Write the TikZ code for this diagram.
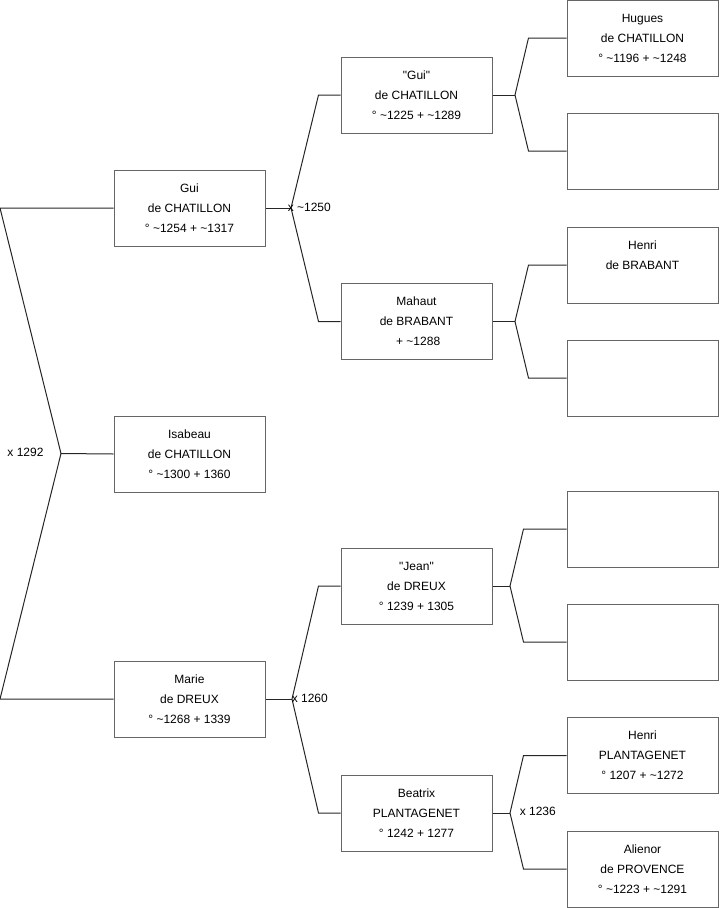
\documentclass[tikz,border=0pt]{standalone}
\usepackage{fontspec}
\newfontfamily\lib{Liberation Sans}
\usetikzlibrary{calc}
\newcommand\ca{\textasciitilde}
\begin{document}
\begin{tikzpicture}[x=0.75pt,y=-0.75pt,
  person/.style={draw=black!60, line width=0.75pt, minimum width=113.25pt, minimum height=57pt,
    inner sep=0pt, align=center, font=\lib\fontsize{9}{15}\selectfont},
  link/.style={draw=black!85, line width=0.75pt},
  lbl/.style={font=\lib\fontsize{9}{11}\selectfont, inner sep=0pt}]
\useasboundingbox (0,0) rectangle (719,908);

% generation 1
\node[person] (isabeau) at (189.5,454) {Isabeau\\de CHATILLON\\° \ca1300 + 1360};
% generation 2
\node[person] (gui) at (189.5,208) {Gui\\de CHATILLON\\° \ca1254 + \ca1317};
\node[person] (marie) at (189.5,699) {Marie\\de DREUX\\° \ca1268 + 1339};
% generation 3
\node[person] (guif) at (416.5,95) {"Gui"\\de CHATILLON\\° \ca1225 + \ca1289};
\node[person] (mahaut) at (416.5,321.5) {Mahaut\\de BRABANT\\\ + \ca1288};
\node[person] (jean) at (416.5,586) {"Jean"\\de DREUX\\° 1239 + 1305};
\node[person] (beatrix) at (416.5,813) {Beatrix\\PLANTAGENET\\° 1242 + 1277};
% generation 4
\node[person] (hugues) at (642.5,38) {Hugues\\de CHATILLON\\° \ca1196 + \ca1248};
\node[person] (e1) at (642.5,151) {};
\node[person] (henrib) at (642.5,265) {Henri\\de BRABANT\\\mbox{}};
\node[person] (e2) at (642.5,378) {};
\node[person] (e3) at (642.5,529) {};
\node[person] (e4) at (642.5,642) {};
\node[person] (henrip) at (642.5,755.5) {Henri\\PLANTAGENET\\° 1207 + \ca1272};
\node[person] (alienor) at (642.5,869) {Alienor\\de PROVENCE\\° \ca1223 + \ca1291};

% fork points
\coordinate (fa) at (61,453.5);
\coordinate (fb) at (291,208);
\coordinate (fc) at (292,699);
\coordinate (fd) at (515,95);
\coordinate (fe) at (515,321.5);
\coordinate (ff) at (510,586);
\coordinate (fg) at (510,813);

% connectors
\draw[link] (gui.west) -- (gui.west -| 0,0) -- (fa) -- (isabeau.west);
\draw[link] (marie.west) -- (marie.west -| 0,0) -- (fa);

\draw[link] (gui.east) -- (fb);
\draw[link] (guif.west) -- ($(guif.west)+(-22,0)$) -- (fb) -- ($(mahaut.west)+(-22,0)$) -- (mahaut.west);
\draw[link] (marie.east) -- (fc);
\draw[link] (jean.west) -- ($(jean.west)+(-22,0)$) -- (fc) -- ($(beatrix.west)+(-22,0)$) -- (beatrix.west);

\draw[link] (guif.east) -- (fd);
\draw[link] (hugues.west) -- ($(hugues.west)+(-38,0)$) -- (fd) -- ($(e1.west)+(-38,0)$) -- (e1.west);
\draw[link] (mahaut.east) -- (fe);
\draw[link] (henrib.west) -- ($(henrib.west)+(-38,0)$) -- (fe) -- ($(e2.west)+(-38,0)$) -- (e2.west);
\draw[link] (jean.east) -- (ff);
\draw[link] (e3.west) -- ($(e3.west)+(-43,0)$) -- (ff) -- ($(e4.west)+(-43,0)$) -- (e4.west);
\draw[link] (beatrix.east) -- (fg);
\draw[link] (henrip.west) -- ($(henrip.west)+(-43,0)$) -- (fg) -- ($(alienor.west)+(-43,0)$) -- (alienor.west);

% marriage labels
\node[lbl] (m1) at (25.5,452) {x 1292};
\node[lbl, anchor=west] (m2) at (287.5,207) {x \ca1250};
\node[lbl, anchor=west] (m3) at (291.5,698) {x 1260};
\node[lbl, anchor=west] (m4) at (519.5,811) {x 1236};
\end{tikzpicture}
\end{document}
